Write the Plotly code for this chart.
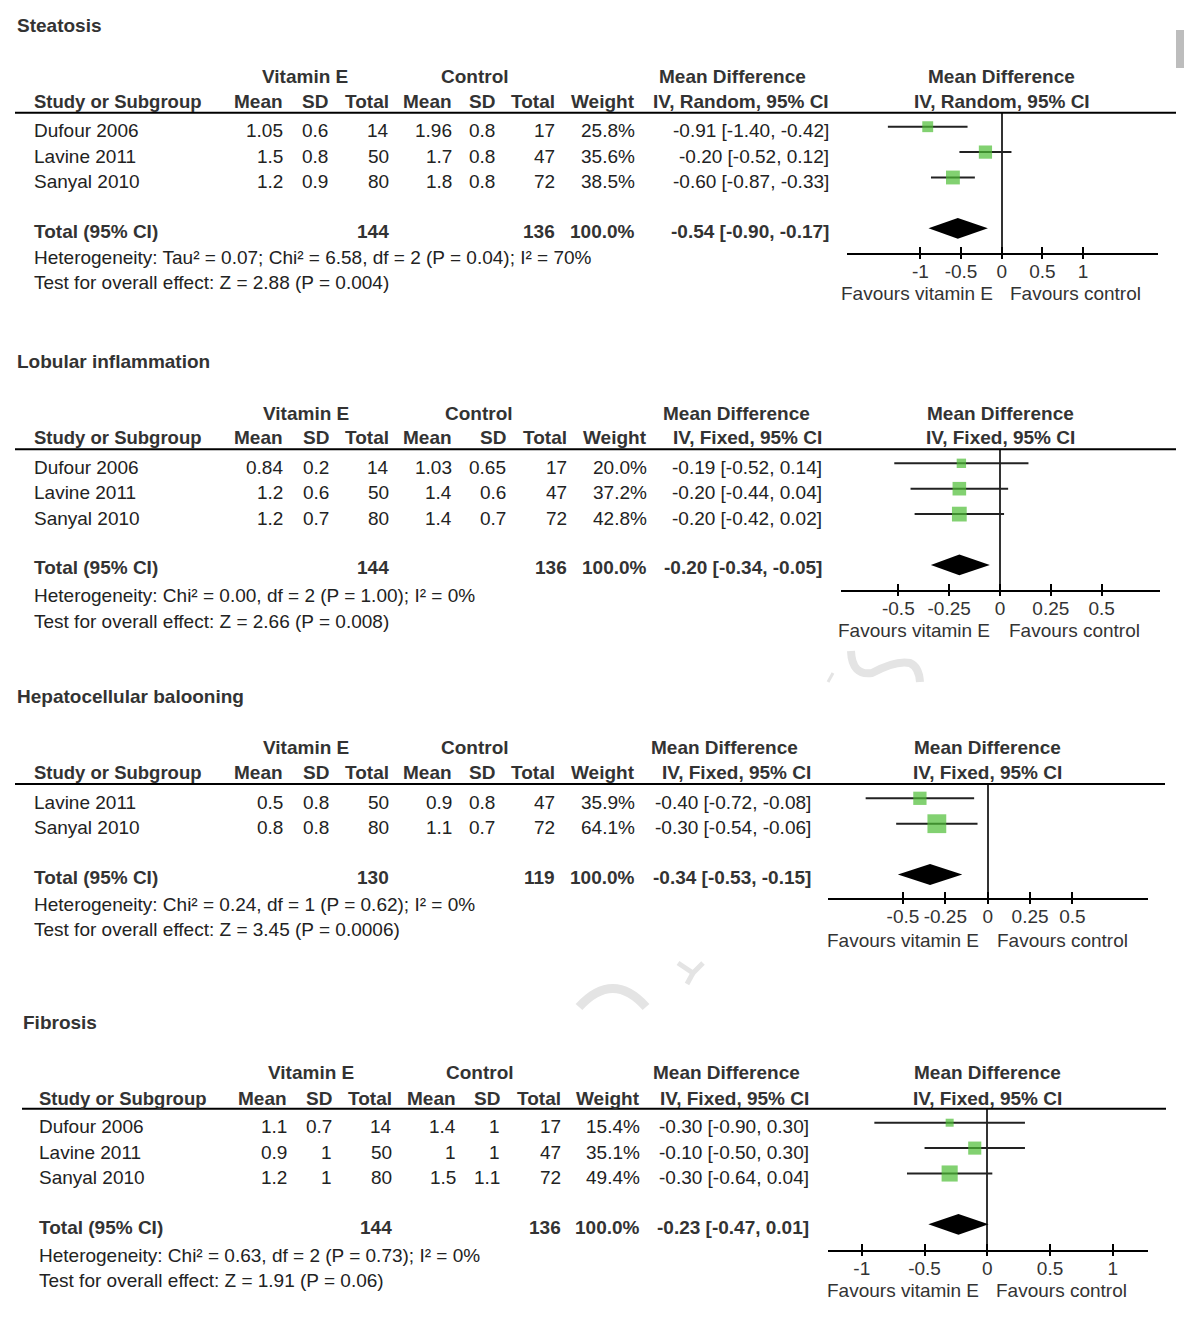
import plotly.graph_objects as go

W, H = 1192, 1322
OFF = 8                      # default page margin of the html body
FW, FH = W - OFF, H - OFF    # figure size so that the page is exactly the window

# ------------------------- data -------------------------
panel_titles = ["Steatosis", "Lobular inflammation", "Hepatocellular balooning", "Fibrosis"]
panel_methods = ["IV, Random, 95% CI", "IV, Fixed, 95% CI", "IV, Fixed, 95% CI", "IV, Fixed, 95% CI"]

steatosis_study = ["Dufour 2006", "Lavine 2011", "Sanyal 2010"]
steatosis_ve_mean = [1.05, 1.5, 1.2]
steatosis_ve_sd = [0.6, 0.8, 0.9]
steatosis_ve_n = [14, 50, 80]
steatosis_c_mean = [1.96, 1.7, 1.8]
steatosis_c_sd = [0.8, 0.8, 0.8]
steatosis_c_n = [17, 47, 72]
steatosis_weight = [25.8, 35.6, 38.5]
steatosis_md = [-0.91, -0.20, -0.60]
steatosis_lo = [-1.40, -0.52, -0.87]
steatosis_hi = [-0.42, 0.12, -0.33]
steatosis_total_n = [144, 136]
steatosis_total_weight = 100.0
steatosis_total_md = [-0.54, -0.90, -0.17]
steatosis_notes = ["Heterogeneity: Tau² = 0.07; Chi² = 6.58, df = 2 (P = 0.04); I² = 70%",
                   "Test for overall effect: Z = 2.88 (P = 0.004)"]
steatosis_ticks = [-1, -0.5, 0, 0.5, 1]

lobular_study = ["Dufour 2006", "Lavine 2011", "Sanyal 2010"]
lobular_ve_mean = [0.84, 1.2, 1.2]
lobular_ve_sd = [0.2, 0.6, 0.7]
lobular_ve_n = [14, 50, 80]
lobular_c_mean = [1.03, 1.4, 1.4]
lobular_c_sd = [0.65, 0.6, 0.7]
lobular_c_n = [17, 47, 72]
lobular_weight = [20.0, 37.2, 42.8]
lobular_md = [-0.19, -0.20, -0.20]
lobular_lo = [-0.52, -0.44, -0.42]
lobular_hi = [0.14, 0.04, 0.02]
lobular_total_n = [144, 136]
lobular_total_weight = 100.0
lobular_total_md = [-0.20, -0.34, -0.05]
lobular_notes = ["Heterogeneity: Chi² = 0.00, df = 2 (P = 1.00); I² = 0%",
                 "Test for overall effect: Z = 2.66 (P = 0.008)"]
lobular_ticks = [-0.5, -0.25, 0, 0.25, 0.5]

ballooning_study = ["Lavine 2011", "Sanyal 2010"]
ballooning_ve_mean = [0.5, 0.8]
ballooning_ve_sd = [0.8, 0.8]
ballooning_ve_n = [50, 80]
ballooning_c_mean = [0.9, 1.1]
ballooning_c_sd = [0.8, 0.7]
ballooning_c_n = [47, 72]
ballooning_weight = [35.9, 64.1]
ballooning_md = [-0.40, -0.30]
ballooning_lo = [-0.72, -0.54]
ballooning_hi = [-0.08, -0.06]
ballooning_total_n = [130, 119]
ballooning_total_weight = 100.0
ballooning_total_md = [-0.34, -0.53, -0.15]
ballooning_notes = ["Heterogeneity: Chi² = 0.24, df = 1 (P = 0.62); I² = 0%",
                    "Test for overall effect: Z = 3.45 (P = 0.0006)"]
ballooning_ticks = [-0.5, -0.25, 0, 0.25, 0.5]

fibrosis_study = ["Dufour 2006", "Lavine 2011", "Sanyal 2010"]
fibrosis_ve_mean = [1.1, 0.9, 1.2]
fibrosis_ve_sd = [0.7, 1, 1]
fibrosis_ve_n = [14, 50, 80]
fibrosis_c_mean = [1.4, 1, 1.5]
fibrosis_c_sd = [1, 1, 1.1]
fibrosis_c_n = [17, 47, 72]
fibrosis_weight = [15.4, 35.1, 49.4]
fibrosis_md = [-0.30, -0.10, -0.30]
fibrosis_lo = [-0.90, -0.50, -0.64]
fibrosis_hi = [0.30, 0.30, 0.04]
fibrosis_total_n = [144, 136]
fibrosis_total_weight = 100.0
fibrosis_total_md = [-0.23, -0.47, 0.01]
fibrosis_notes = ["Heterogeneity: Chi² = 0.63, df = 2 (P = 0.73); I² = 0%",
                  "Test for overall effect: Z = 1.91 (P = 0.06)"]
fibrosis_ticks = [-1, -0.5, 0, 0.5, 1]

panels_data = [
    (steatosis_study, steatosis_ve_mean, steatosis_ve_sd, steatosis_ve_n, steatosis_c_mean,
     steatosis_c_sd, steatosis_c_n, steatosis_weight, steatosis_md, steatosis_lo, steatosis_hi,
     steatosis_total_n, steatosis_total_weight, steatosis_total_md, steatosis_notes, steatosis_ticks),
    (lobular_study, lobular_ve_mean, lobular_ve_sd, lobular_ve_n, lobular_c_mean,
     lobular_c_sd, lobular_c_n, lobular_weight, lobular_md, lobular_lo, lobular_hi,
     lobular_total_n, lobular_total_weight, lobular_total_md, lobular_notes, lobular_ticks),
    (ballooning_study, ballooning_ve_mean, ballooning_ve_sd, ballooning_ve_n, ballooning_c_mean,
     ballooning_c_sd, ballooning_c_n, ballooning_weight, ballooning_md, ballooning_lo, ballooning_hi,
     ballooning_total_n, ballooning_total_weight, ballooning_total_md, ballooning_notes, ballooning_ticks),
    (fibrosis_study, fibrosis_ve_mean, fibrosis_ve_sd, fibrosis_ve_n, fibrosis_c_mean,
     fibrosis_c_sd, fibrosis_c_n, fibrosis_weight, fibrosis_md, fibrosis_lo, fibrosis_hi,
     fibrosis_total_n, fibrosis_total_weight, fibrosis_total_md, fibrosis_notes, fibrosis_ticks),
]

# ------------------------- layout geometry (window pixels) -------------------------
geometry = [
    dict(title_x=16, title_y=25, h1=76, h2=101, line_y=112.7, lx0=15, lx1=1176, row0=126.7,
         het=257, test=283, left=33, cols=[284, 329, 390, 453, 496, 556, 636, 830],
         ve_cx=305, c_cx=475, md_cx=732, dom=(846.7, 1157.7), zero=1001.7, scale=81.3,
         axis_y=253.3, fav_y=293, fav_l=916.7, fav_r=1075.5),
    dict(title_x=16, title_y=361, h1=413, h2=438, line_y=449.3, lx0=15, lx1=1176, row0=463.3,
         het=595, test=621, left=33, cols=[284, 330, 390, 453, 507, 568, 648, 823],
         ve_cx=306, c_cx=479, md_cx=736, dom=(840.7, 1160.0), zero=1000.0, scale=203.3,
         axis_y=590.0, fav_y=631, fav_l=914, fav_r=1074.3),
    dict(title_x=16, title_y=696, h1=747, h2=772, line_y=784.0, lx0=15, lx1=1165, row0=798.3,
         het=904, test=929, left=33, cols=[284, 330, 390, 453, 496, 556, 636, 812],
         ve_cx=306, c_cx=475, md_cx=724, dom=(828.3, 1147.7), zero=987.7, scale=169.5,
         axis_y=898.3, fav_y=940, fav_l=903.3, fav_r=1062.2),
    dict(title_x=22, title_y=1022, h1=1072, h2=1098, line_y=1108.7, lx0=22, lx1=1166, row0=1122.7,
         het=1255, test=1280, left=38, cols=[288, 333, 393, 457, 501, 562, 641, 810],
         ve_cx=311, c_cx=480, md_cx=726, dom=(828.3, 1147.7), zero=987.3, scale=125.5,
         axis_y=1250.0, fav_y=1290, fav_l=903, fav_r=1061.7),
]
ROW = 25.4           # pixel spacing between study rows
TXT_DY = 4           # text sits slightly lower than the marker centre
DIAMOND_HALF = 0.41  # diamond half-height in row units

FONT = "Liberation Sans, Arial, Helvetica, sans-serif"
TXT = "#222222"
HDR = "#333333"
GREEN = "#4dbd35"
WATERMARK = "#e4e4e4"


def px(x):
    return (x - OFF) / FW


def py(y):
    return 1 - (y - OFF) / FH


def fmt(v):
    return f"{v:g}"


def path(cmds):
    """Build an SVG path in paper coordinates from window-pixel commands."""
    out = []
    for c in cmds:
        op, pts = c[0], c[1:]
        out.append(op + " " + " ".join(f"{px(x):.5f},{py(y):.5f}" for x, y in pts))
    return " ".join(out)


fig = go.Figure()
annotations = []
shapes = []


def add_text(text, x, y, anchor="left", bold=False, color=TXT, size=19):
    annotations.append(dict(
        text=f"<b>{text}</b>" if bold else text, x=px(x), y=py(y), xref="paper", yref="paper",
        xanchor=anchor, yanchor="middle", showarrow=False, borderpad=0,
        font=dict(family=FONT, size=size, color=color)))


# faint fragments of a background watermark visible in the reference
for cmds, wdt in [
    ([("M", (851, 651)), ("Q", (852, 676), (872, 673)), ("Q", (896, 660), (910, 663)),
      ("Q", (919, 667), (920, 682))], 8),
    ([("M", (833, 673)), ("L", (828, 682))], 3),
    ([("M", (579, 1007)), ("Q", (613, 970), (646, 1007))], 9),
    ([("M", (678, 963)), ("L", (693, 973)), ("L", (703, 963))], 5),
    ([("M", (693, 973)), ("L", (687, 984))], 5),
]:
    shapes.append(dict(type="path", xref="paper", yref="paper", path=path(cmds), layer="below",
                       line=dict(color=WATERMARK, width=wdt)))

layout_axes = {}
for k, (data, g) in enumerate(zip(panels_data, geometry), start=1):
    (study, ve_mean, ve_sd, ve_n, c_mean, c_sd, c_n, weight, md, lo, hi,
     total_n, total_w, total_md, notes, ticks) = data
    n = len(study)
    cols = g["cols"]

    # ----- titles & headers -----
    add_text(panel_titles[k - 1], g["title_x"], g["title_y"], bold=True, color=HDR)
    add_text("Vitamin E", g["ve_cx"], g["h1"], anchor="center", bold=True, color=HDR)
    add_text("Control", g["c_cx"], g["h1"], anchor="center", bold=True, color=HDR)
    add_text("Mean Difference", g["md_cx"], g["h1"], anchor="center", bold=True, color=HDR)
    add_text("Mean Difference", g["zero"], g["h1"], anchor="center", bold=True, color=HDR)
    add_text("Study or Subgroup", g["left"], g["h2"], bold=True, color=HDR, size=18.5)
    for lab, cx in zip(["Mean", "SD", "Total", "Mean", "SD", "Total", "Weight", panel_methods[k - 1]], cols):
        add_text(lab, cx, g["h2"], anchor="right", bold=True, color=HDR)
    add_text(panel_methods[k - 1], g["zero"], g["h2"], anchor="center", bold=True, color=HDR)

    shapes.append(dict(type="line", xref="paper", yref="paper", x0=px(g["lx0"]), x1=px(g["lx1"]),
                       y0=py(g["line_y"]), y1=py(g["line_y"]), line=dict(color="black", width=2)))

    # ----- study rows -----
    for i in range(n):
        ty = g["row0"] + i * ROW + TXT_DY
        add_text(study[i], g["left"], ty)
        vals = [fmt(ve_mean[i]), fmt(ve_sd[i]), str(ve_n[i]), fmt(c_mean[i]), fmt(c_sd[i]),
                str(c_n[i]), f"{weight[i]:.1f}%", f"{md[i]:.2f} [{lo[i]:.2f}, {hi[i]:.2f}]"]
        for v, cx in zip(vals, cols):
            add_text(v, cx, ty, anchor="right")

    # ----- total row -----
    tot_idx = n + 1
    ty = g["row0"] + tot_idx * ROW + 3
    add_text("Total (95% CI)", g["left"], ty, bold=True, color=HDR)
    add_text(str(total_n[0]), cols[2], ty, anchor="right", bold=True, color=HDR)
    add_text(str(total_n[1]), cols[5], ty, anchor="right", bold=True, color=HDR)
    add_text(f"{total_w:.1f}%", cols[6], ty, anchor="right", bold=True, color=HDR)
    add_text(f"{total_md[0]:.2f} [{total_md[1]:.2f}, {total_md[2]:.2f}]", cols[7], ty,
             anchor="right", bold=True, color=HDR)
    add_text(notes[0], g["left"], g["het"])
    add_text(notes[1], g["left"], g["test"])

    # ----- favours labels -----
    add_text("Favours vitamin E", g["fav_l"], g["fav_y"], anchor="center", color=HDR)
    add_text("Favours control", g["fav_r"], g["fav_y"], anchor="center", color=HDR)

    # ----- forest plot -----
    xa, ya, xo = f"x{k}", f"y{k}", f"x{k + 4}"
    rows = list(range(n))
    fig.add_trace(go.Scatter(
        x=md, y=rows, mode="markers", xaxis=xa, yaxis=ya, showlegend=False, hoverinfo="skip",
        marker=dict(symbol="square", color=GREEN, size=[1.55 * w ** 0.6 for w in weight],
                    line=dict(width=0)),
        error_x=dict(type="data", symmetric=False,
                     array=[h - m for h, m in zip(hi, md)],
                     arrayminus=[m - l for m, l in zip(md, lo)],
                     width=0, thickness=2, color="#222222"),
        cliponaxis=False))
    est, tlo, thi = total_md
    fig.add_trace(go.Scatter(
        x=[tlo, est, thi, est, tlo],
        y=[tot_idx, tot_idx - DIAMOND_HALF, tot_idx, tot_idx + DIAMOND_HALF, tot_idx],
        mode="lines", fill="toself", fillcolor="black", line=dict(width=0, color="black"),
        xaxis=xa, yaxis=ya, showlegend=False, hoverinfo="skip"))
    # invisible trace to carry the overlay (downward) tick axis
    fig.add_trace(go.Scatter(x=[ticks[0]], y=[0], mode="markers", marker=dict(opacity=0),
                             xaxis=xo, yaxis=ya, showlegend=False, hoverinfo="skip"))

    d0, d1 = g["dom"]
    xr = [(d0 - g["zero"]) / g["scale"], (d1 - g["zero"]) / g["scale"]]
    yr = [(g["axis_y"] - g["row0"]) / ROW, (g["line_y"] - g["row0"]) / ROW]
    ticktext = [fmt(t) for t in ticks]
    name = "" if k == 1 else str(k)
    layout_axes[f"xaxis{name}"] = dict(
        domain=[px(d0), px(d1)], range=xr, anchor=ya, showgrid=False,
        showline=True, linecolor="black", linewidth=2,
        ticks="inside", ticklen=6, tickwidth=2, tickcolor="black",
        tickmode="array", tickvals=ticks, ticktext=ticktext,
        tickfont=dict(family=FONT, size=19, color=HDR),
        zeroline=True, zerolinecolor="#333333", zerolinewidth=2, fixedrange=True)
    layout_axes[f"xaxis{k + 4}"] = dict(
        domain=[px(d0), px(d1)], range=xr, anchor=ya, overlaying=xa, showgrid=False,
        showline=False, zeroline=False, ticks="outside", ticklen=5, tickwidth=2, tickcolor="black",
        tickmode="array", tickvals=ticks, showticklabels=False, fixedrange=True)
    layout_axes[f"yaxis{name}"] = dict(
        domain=[py(g["axis_y"]), py(g["line_y"])], range=yr, visible=False,
        showgrid=False, zeroline=False, fixedrange=True)

# browser scrollbar thumb seen in the reference
shapes.append(dict(type="rect", xref="paper", yref="paper", x0=px(1176), x1=px(1192),
                   y0=py(68), y1=py(30), fillcolor="#bdbdbd", line=dict(width=0)))

fig.update_layout(
    width=FW, height=FH, margin=dict(l=0, r=0, t=0, b=0),
    paper_bgcolor="white", plot_bgcolor="rgba(0,0,0,0)",
    annotations=annotations, shapes=shapes, showlegend=False,
    font=dict(family=FONT, color=TXT), **layout_axes)

fig.write_html("out.html")
